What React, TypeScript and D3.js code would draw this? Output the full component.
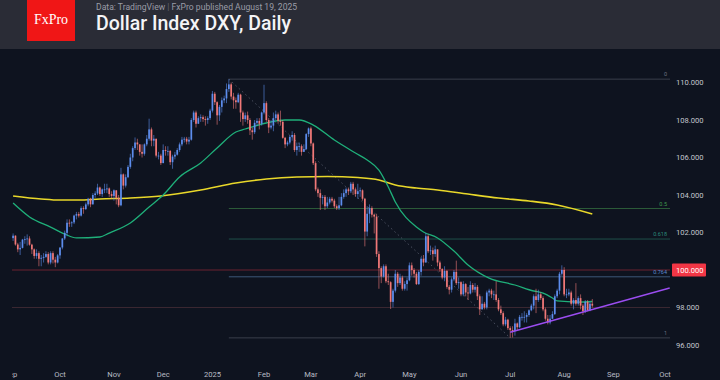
import React, { useEffect } from "react";
import * as d3 from "d3";

// ---------- DATA ----------
type OHLC = [number, number, number, number];

const holidays = ["2024-12-25", "2025-01-01", "2025-04-18"];

const sep24: OHLC[] = [
  [101.7, 101.95, 101.55, 101.83], [101.83, 101.85, 101.3, 101.36], [101.36, 101.45, 100.95, 101.1],
  [101.1, 101.5, 100.8, 101.18], [101.18, 101.66, 101.15, 101.62], [101.62, 101.8, 101.4, 101.64],
  [101.64, 101.9, 101.3, 101.68], [101.68, 101.8, 101.3, 101.35], [101.35, 101.4, 100.85, 101.1],
  [101.1, 101.15, 100.6, 100.75], [100.75, 101.1, 100.6, 100.9], [100.9, 101.0, 100.2, 100.6],
  [100.6, 100.8, 100.2, 100.65], [100.65, 100.9, 100.4, 100.7], [100.7, 101.0, 100.65, 100.85],
  [100.85, 100.95, 100.3, 100.4], [100.4, 101.0, 100.3, 100.9], [100.9, 101.0, 100.35, 100.55],
  [100.55, 100.7, 100.15, 100.4], [100.4, 100.85, 100.35, 100.78],
];
const oct24: OHLC[] = [
  [100.78, 101.2, 100.6, 101.2], [101.2, 101.7, 101.1, 101.68], [101.68, 102.1, 101.6, 101.98],
  [101.98, 102.7, 101.8, 102.52], [102.52, 102.7, 102.3, 102.5], [102.5, 102.6, 102.3, 102.54],
  [102.54, 102.95, 102.45, 102.9], [102.9, 103.1, 102.7, 102.98], [102.98, 103.1, 102.8, 102.9],
  [102.9, 103.4, 102.85, 103.3], [103.3, 103.4, 103.0, 103.25], [103.25, 103.6, 103.2, 103.5],
  [103.5, 103.85, 103.4, 103.8], [103.8, 103.85, 103.35, 103.5], [103.5, 104.1, 103.5, 104.0],
  [104.0, 104.2, 103.85, 104.08], [104.08, 104.6, 104.0, 104.4], [104.4, 104.45, 103.95, 104.05],
  [104.05, 104.35, 103.9, 104.3], [104.3, 104.6, 104.1, 104.3], [104.3, 104.6, 104.1, 104.35],
  [104.35, 104.4, 103.9, 104.05], [104.05, 104.2, 103.8, 103.95],
];
const nov24: OHLC[] = [
  [103.95, 104.3, 103.7, 104.25], [104.25, 104.25, 103.5, 103.85], [103.85, 104.0, 103.35, 103.45],
  [103.45, 105.45, 103.4, 105.1], [105.1, 105.15, 104.3, 104.5], [104.5, 105.1, 104.4, 104.95],
  [104.95, 105.6, 104.9, 105.5], [105.5, 106.2, 105.4, 106.0], [106.0, 106.6, 105.8, 106.5],
  [106.5, 107.07, 106.4, 106.8], [106.8, 107.0, 106.4, 106.7], [106.7, 106.7, 106.1, 106.3],
  [106.3, 106.7, 106.0, 106.2], [106.2, 106.75, 106.1, 106.7], [106.7, 107.2, 106.6, 107.0],
  [107.0, 108.07, 106.9, 107.5], [107.5, 107.6, 106.6, 106.9], [106.9, 107.2, 106.6, 107.0],
  [107.0, 107.0, 106.0, 106.1], [106.1, 106.3, 105.9, 106.1], [106.1, 106.2, 105.6, 105.7],
];
const dec24: OHLC[] = [
  [105.7, 106.7, 105.7, 106.4], [106.4, 106.6, 106.1, 106.35], [106.35, 106.6, 106.1, 106.35],
  [106.35, 106.4, 105.6, 105.75], [105.75, 106.15, 105.4, 106.05], [106.05, 106.3, 105.9, 106.15],
  [106.15, 106.5, 106.1, 106.4], [106.4, 106.8, 106.3, 106.7], [106.7, 107.1, 106.6, 106.95],
  [106.95, 107.1, 106.8, 107.0], [107.0, 107.1, 106.7, 106.85], [106.85, 107.1, 106.7, 106.95],
  [106.95, 108.1, 106.9, 108.0], [108.0, 108.5, 107.9, 108.4], [108.4, 108.5, 107.6, 107.8],
  [107.8, 108.2, 107.8, 108.1], [108.1, 108.3, 107.9, 108.15], [108.15, 108.25, 107.9, 108.05],
  [108.05, 108.2, 107.7, 108.0], [108.0, 108.2, 107.8, 108.1], [108.1, 108.6, 108.0, 108.5],
];
const jan25: OHLC[] = [
  [108.5, 109.55, 108.4, 109.4], [109.4, 109.5, 108.8, 108.95], [108.95, 109.0, 107.75, 108.25],
  [108.25, 108.8, 107.95, 108.7], [108.7, 109.2, 108.4, 109.05], [109.05, 109.3, 108.9, 109.15],
  [109.15, 109.95, 108.9, 109.65], [109.65, 110.18, 109.5, 109.9], [109.9, 110.0, 109.1, 109.25],
  [109.25, 109.45, 108.6, 109.05], [109.05, 109.2, 108.6, 108.95], [108.95, 109.45, 108.9, 109.35],
  [109.35, 109.4, 107.9, 108.4], [108.4, 108.5, 107.7, 108.05], [108.05, 108.4, 107.9, 108.25],
  [108.25, 108.45, 107.8, 108.0], [108.0, 108.1, 107.2, 107.45], [107.45, 107.6, 106.95, 107.35],
  [107.35, 108.0, 107.25, 107.85], [107.85, 108.1, 107.7, 107.95], [107.95, 108.1, 107.5, 107.8],
  [107.8, 108.45, 107.7, 108.4],
];
const feb25: OHLC[] = [
  [108.4, 109.88, 108.3, 108.9], [108.9, 109.0, 107.9, 108.0], [108.0, 108.1, 107.3, 107.6],
  [107.6, 108.0, 107.5, 107.7], [107.7, 108.4, 107.4, 108.1], [108.1, 108.5, 108.0, 108.3],
  [108.3, 108.4, 107.8, 107.95], [107.95, 108.5, 107.7, 107.9], [107.9, 108.0, 107.0, 107.05],
  [107.05, 107.1, 106.5, 106.7], [106.7, 106.9, 106.6, 106.8], [106.8, 107.2, 106.7, 107.1],
  [107.1, 107.4, 106.9, 107.2], [107.2, 107.3, 106.3, 106.4], [106.4, 106.8, 106.1, 106.6],
  [106.6, 106.8, 106.3, 106.6], [106.6, 106.7, 106.1, 106.3], [106.3, 106.7, 106.3, 106.45],
  [106.45, 107.3, 106.4, 107.25], [107.25, 107.6, 107.1, 107.55],
];
const mar25: OHLC[] = [
  [107.55, 107.65, 106.6, 106.75], [106.75, 106.8, 105.6, 105.7], [105.7, 105.8, 104.2, 104.3],
  [104.3, 104.4, 103.9, 104.1], [104.1, 104.3, 103.2, 103.85], [103.85, 104.0, 103.5, 103.9],
  [103.9, 104.0, 103.2, 103.4], [103.4, 103.9, 103.3, 103.6], [103.6, 103.9, 103.5, 103.8],
  [103.8, 103.9, 103.6, 103.7], [103.7, 103.8, 103.3, 103.4], [103.4, 103.5, 103.2, 103.3],
  [103.3, 103.9, 103.2, 103.45], [103.45, 104.1, 103.4, 103.9], [103.9, 104.3, 103.8, 104.1],
  [104.1, 104.4, 103.9, 104.3], [104.3, 104.4, 104.0, 104.2], [104.2, 104.7, 104.1, 104.6],
  [104.6, 104.7, 104.0, 104.3], [104.3, 104.4, 103.9, 104.05], [104.05, 104.6, 103.8, 104.2],
];
const apr25: OHLC[] = [
  [104.2, 104.4, 103.9, 104.25], [104.25, 104.3, 103.7, 103.8], [103.8, 103.85, 101.26, 102.05],
  [102.05, 103.4, 101.8, 103.0], [103.0, 103.5, 102.5, 103.3], [103.3, 103.4, 102.8, 102.95],
  [102.95, 103.0, 101.95, 102.85], [102.85, 103.0, 100.7, 100.85], [100.85, 101.0, 99.0, 100.1],
  [100.1, 100.2, 99.3, 99.65], [99.65, 100.3, 99.6, 100.2], [100.2, 100.3, 99.3, 99.4],
  [99.4, 99.8, 99.2, 99.35], [99.35, 99.4, 97.92, 98.3], [98.3, 99.0, 98.0, 98.9],
  [98.9, 100.0, 98.8, 99.8], [99.8, 99.9, 99.1, 99.3], [99.3, 99.8, 99.2, 99.6],
  [99.6, 99.7, 98.9, 99.0], [99.0, 99.4, 98.9, 99.25], [99.25, 99.6, 98.9, 99.45],
];
const may25: OHLC[] = [
  [99.45, 100.4, 99.4, 100.25], [100.25, 100.4, 99.7, 100.0], [100.0, 100.1, 99.6, 99.8],
  [99.8, 99.9, 99.2, 99.25], [99.25, 100.0, 99.2, 99.9], [99.9, 100.7, 99.7, 100.6],
  [100.6, 100.8, 100.2, 100.4], [100.4, 101.98, 100.4, 101.8], [101.8, 101.9, 100.9, 101.0],
  [101.0, 101.3, 100.8, 101.05], [101.05, 101.2, 100.5, 100.85], [100.85, 101.3, 100.7, 101.1],
  [101.1, 101.1, 100.2, 100.4], [100.4, 100.5, 99.9, 100.05], [100.05, 100.1, 99.5, 99.6],
  [99.6, 100.2, 99.4, 99.95], [99.95, 100.0, 99.0, 99.1], [99.1, 99.2, 98.7, 98.95],
  [98.95, 99.6, 98.8, 99.5], [99.5, 100.0, 99.4, 99.9], [99.9, 100.5, 99.2, 99.3],
  [99.3, 99.6, 99.0, 99.35],
];
const jun25: OHLC[] = [
  [99.35, 99.4, 98.6, 98.7], [98.7, 99.4, 98.6, 99.25], [99.25, 99.3, 98.6, 98.8],
  [98.8, 99.1, 98.4, 98.75], [98.75, 99.4, 98.7, 99.2], [99.2, 99.3, 98.8, 98.95],
  [98.95, 99.3, 98.8, 99.1], [99.1, 99.2, 98.4, 98.6], [98.6, 98.7, 97.6, 97.9],
  [97.9, 98.6, 97.9, 98.2], [98.2, 98.3, 97.9, 98.0], [98.0, 98.9, 97.9, 98.8],
  [98.8, 99.0, 98.6, 98.9], [98.9, 99.0, 98.5, 98.7], [98.7, 98.9, 98.4, 98.7],
  [98.7, 99.4, 98.3, 98.4], [98.4, 98.5, 97.8, 97.9], [97.9, 98.1, 97.6, 97.7],
  [97.7, 97.8, 97.0, 97.1], [97.1, 97.5, 97.0, 97.35], [97.35, 97.4, 96.8, 96.9],
];
const jul25: OHLC[] = [
  [96.9, 97.0, 96.38, 96.8], [96.8, 97.0, 96.4, 96.75], [96.75, 97.4, 96.5, 97.15],
  [97.15, 97.2, 96.8, 96.95], [96.95, 97.6, 96.9, 97.5], [97.5, 97.7, 97.3, 97.5],
  [97.5, 97.8, 97.2, 97.5], [97.5, 97.7, 97.2, 97.6], [97.6, 97.9, 97.5, 97.85],
  [97.85, 98.2, 97.8, 98.1], [98.1, 98.7, 97.9, 98.6], [98.6, 99.0, 97.7, 98.4],
  [98.4, 98.95, 98.3, 98.7], [98.7, 98.8, 98.4, 98.5], [98.5, 98.6, 97.8, 97.9],
  [97.9, 98.0, 97.3, 97.4], [97.4, 97.6, 97.1, 97.2], [97.2, 97.6, 97.1, 97.4],
  [97.4, 97.8, 97.4, 97.65], [97.65, 98.7, 97.6, 98.6], [98.6, 99.0, 98.5, 98.9],
  [98.9, 99.9, 98.7, 99.8], [99.8, 100.25, 99.7, 100.0],
];
const aug25: OHLC[] = [
  [100.0, 100.15, 98.6, 98.7], [98.7, 99.0, 98.5, 98.7], [98.7, 99.0, 98.6, 98.8],
  [98.8, 98.9, 98.1, 98.2], [98.2, 98.5, 97.9, 98.4], [98.4, 99.3, 98.1, 98.2],
  [98.2, 98.6, 98.1, 98.5], [98.5, 98.7, 97.9, 98.1], [98.1, 98.2, 97.6, 97.8],
  [97.8, 98.4, 97.7, 98.3], [98.3, 98.4, 97.8, 97.85], [97.85, 98.3, 97.8, 98.2],
  [98.2, 98.45, 98.0, 98.1],
];

const monthKeys = ["2024-09", "2024-10", "2024-11", "2024-12", "2025-01", "2025-02", "2025-03", "2025-04", "2025-05", "2025-06", "2025-07", "2025-08"];
const monthCandles = [sep24, oct24, nov24, dec24, jan25, feb25, mar25, apr25, may25, jun25, jul25, aug25];
const firstCandleDay = "2024-09-03";

const axisMonthKeys = ["2024-09", "2024-10", "2024-11", "2024-12", "2025-01", "2025-02", "2025-03", "2025-04", "2025-05", "2025-06", "2025-07", "2025-08", "2025-09", "2025-10"];
const axisMonthLabels = ["Sep", "Oct", "Nov", "Dec", "2025", "Feb", "Mar", "Apr", "May", "Jun", "Jul", "Aug", "Sep", "Oct"];

const ma50: [string, number][] = [
  ["2024-09-03", 103.57], ["2024-09-12", 102.83], ["2024-09-25", 102.29], ["2024-10-03", 101.92],
  ["2024-10-10", 101.71], ["2024-10-24", 101.76], ["2024-10-30", 101.97], ["2024-11-12", 102.51],
  ["2024-11-22", 103.36], ["2024-12-02", 104.0], ["2024-12-11", 104.96], ["2024-12-24", 105.71],
  ["2025-01-06", 106.51], ["2025-01-16", 107.36], ["2025-01-22", 107.52], ["2025-02-04", 107.84],
  ["2025-02-14", 108.0], ["2025-02-24", 108.0], ["2025-03-04", 107.73], ["2025-03-17", 106.93],
  ["2025-03-28", 106.24], ["2025-04-04", 105.87], ["2025-04-11", 105.33], ["2025-04-17", 104.43],
  ["2025-04-23", 103.63], ["2025-05-06", 102.29], ["2025-05-09", 102.03], ["2025-05-19", 101.71],
  ["2025-05-28", 101.01], ["2025-06-05", 100.27], ["2025-06-18", 99.57], ["2025-07-03", 99.2],
  ["2025-07-15", 98.88], ["2025-07-21", 98.77], ["2025-07-25", 98.51], ["2025-07-29", 98.35],
  ["2025-08-11", 98.29], ["2025-08-19", 98.32],
];
const ma200: [string, number][] = [
  ["2024-09-03", 103.95], ["2024-09-19", 103.79], ["2024-10-01", 103.73], ["2024-10-11", 103.73],
  ["2024-10-24", 103.79], ["2024-11-12", 103.84], ["2024-11-29", 103.95], ["2024-12-24", 104.27],
  ["2025-01-16", 104.64], ["2025-02-04", 104.85], ["2025-02-21", 104.96], ["2025-03-12", 104.99],
  ["2025-03-31", 104.93], ["2025-04-11", 104.8], ["2025-04-23", 104.53], ["2025-05-06", 104.37],
  ["2025-05-19", 104.27], ["2025-06-05", 104.05], ["2025-06-24", 103.84], ["2025-07-11", 103.68],
  ["2025-07-29", 103.47], ["2025-08-19", 102.99],
];

const trendLine: [string, number][] = [["2025-07-01", 96.68], ["2025-10-03", 99.04]];
const fibHigh: [string, number] = ["2025-01-13", 110.18];
const fibLow: [string, number] = ["2025-07-01", 96.38];
const fibLevels = [0, 0.5, 0.618, 0.764, 1];
const fibLabels = ["0", "0.5", "0.618", "0.764", "1"];
const fibColors = ["#3a3f4c", "#2b5a38", "#1e4f49", "#3c5878", "#3a3f4c"];
const fibTextColors = ["#6d7280", "#3f9a4c", "#2a8a7a", "#5a8ad0", "#6d7280"];

const keyLevels = [100, 98];
const keyLevelColors = ["#6b2330", "#3a2731"];
const priceTag = 100;
const yTicks = [96, 98, 100, 102, 104, 106, 108, 110];

// ---------- HELPERS ----------
const pad = (n: number) => (n < 10 ? "0" + n : "" + n);
const keyOf = (d: Date) => `${d.getUTCFullYear()}-${pad(d.getUTCMonth() + 1)}-${pad(d.getUTCDate())}`;

function tradingDays(start: string, end: string): string[] {
  const out: string[] = [];
  const d = new Date(start + "T00:00:00Z");
  const e = new Date(end + "T00:00:00Z");
  while (d <= e) {
    const wd = d.getUTCDay();
    const k = keyOf(d);
    if (wd !== 0 && wd !== 6 && !holidays.includes(k)) out.push(k);
    d.setUTCDate(d.getUTCDate() + 1);
  }
  return out;
}

const W = 720;
const H = 380;
const PL = 12;
const PR = 670;

export default function App() {
  useEffect(() => {
    document.body.style.margin = "0";
    document.body.style.background = "#0e131f";
  }, []);

  const days = tradingDays("2024-09-02", "2025-10-31");
  const idx = new Map(days.map((k, i) => [k, i]));
  const ix = (k: string) => idx.get(k) as number;

  const x = d3.scaleLinear().domain([ix("2024-10-01"), ix("2025-10-01")]).range([60, 665]);
  const y = d3.scaleLinear().domain([96, 110]).range([345, 82.5]);
  const xd = (k: string) => x(ix(k));

  // candles
  const candles: { k: string; o: number; h: number; l: number; c: number }[] = [];
  monthKeys.forEach((mk, mi) => {
    const md = days.filter((k) => k.startsWith(mk) && k >= firstCandleDay);
    monthCandles[mi].forEach((v, j) => {
      if (md[j]) candles.push({ k: md[j], o: v[0], h: v[1], l: v[2], c: v[3] });
    });
  });

  const bw = 1.7;
  const up = "#5d8ded";
  const dn = "#f07878";

  const line = d3
    .line<[string, number]>()
    .x((d) => xd(d[0]))
    .y((d) => y(d[1]))
    .curve(d3.curveMonotoneX);

  const fibX0 = xd(fibHigh[0]);
  const range = fibHigh[1] - fibLow[1];

  const monthTicks = axisMonthKeys.map((mk, i) => ({
    label: axisMonthLabels[i],
    k: days.find((d) => d.startsWith(mk)) as string,
  }));

  const font = "Roboto, 'Noto Sans', Arial, sans-serif";

  return (
    <svg width={W} height={H} style={{ position: "absolute", left: 0, top: 0, display: "block" }}>
      <defs>
        <clipPath id="plot">
          <rect x={PL} y={50} width={PR - PL + 2} height={312} />
        </clipPath>
        <clipPath id="xaxis">
          <rect x={PL} y={360} width={W - PL} height={20} />
        </clipPath>
      </defs>
      <rect x={0} y={0} width={W} height={H} fill="#0e131f" />
      {/* header */}
      <rect x={0} y={0} width={W} height={49} fill="#2a2c36" />
      <rect x={27} y={0} width={48} height={41} fill="#f01616" />
      <text x={51} y={23.5} textAnchor="middle" fill="#fff" fontFamily="'Liberation Serif', 'DejaVu Serif', serif" fontSize={14}>
        FxPro
      </text>
      <text x={96} y={9.5} fill="#9a9ca6" fontFamily={font} fontSize={8.6}>
        Data: TradingView <tspan fill="#60636d">|</tspan> FxPro published August 19, 2025
      </text>
      <text x={96} y={29.5} fill="#f4f4f6" fontFamily={font} fontSize={19.5} fontWeight={500}>
        Dollar Index DXY, Daily
      </text>

      <g clipPath="url(#plot)">
        {/* key horizontal levels */}
        {keyLevels.map((v, i) => (
          <line key={"kl" + v} x1={PL} x2={PR} y1={y(v)} y2={y(v)} stroke={keyLevelColors[i]} strokeWidth={1} />
        ))}
        {/* fib levels */}
        {fibLevels.map((lv, i) => {
          const yy = y(fibHigh[1] - lv * range);
          return (
            <g key={"fib" + lv}>
              <line x1={fibX0} x2={PR} y1={yy} y2={yy} stroke={fibColors[i]} strokeWidth={1} />
              <text x={PR - 3} y={yy - 3} textAnchor="end" fill={fibTextColors[i]} fontFamily={font} fontSize={5.5}>
                {fibLabels[i]}
              </text>
            </g>
          );
        })}
        <line
          x1={fibX0}
          y1={y(fibHigh[1])}
          x2={xd(fibLow[0])}
          y2={y(fibLow[1])}
          stroke="#4b5060"
          strokeWidth={1}
          strokeDasharray="1.5,3"
        />
        {/* moving averages */}
        <path d={line(ma200) as string} fill="none" stroke="#e9d82a" strokeWidth={1.6} />
        <path d={line(ma50) as string} fill="none" stroke="#1fb07a" strokeWidth={1.3} />
        {/* candles */}
        {candles.map((c) => {
          const cx = xd(c.k);
          const col = c.c >= c.o ? up : dn;
          const top = y(Math.max(c.o, c.c));
          const bot = y(Math.min(c.o, c.c));
          return (
            <g key={c.k}>
              <line x1={cx} x2={cx} y1={y(c.h)} y2={y(c.l)} stroke={col} strokeWidth={0.8} strokeOpacity={0.75} />
              <rect x={cx - bw / 2} y={top} width={bw} height={Math.max(0.8, bot - top)} fill={col} />
            </g>
          );
        })}
        {/* trend line */}
        <line
          x1={xd(trendLine[0][0])}
          y1={y(trendLine[0][1])}
          x2={xd(trendLine[1][0])}
          y2={y(trendLine[1][1])}
          stroke="#9b4df0"
          strokeWidth={1.3}
        />
      </g>

      {/* y axis labels */}
      {yTicks.map((t) => (
        <text key={"yt" + t} x={676} y={y(t) + 2.7} fill="#c3c6ce" fontFamily={font} fontSize={7.6}>
          {t.toFixed(3)}
        </text>
      ))}
      {/* price tag */}
      <rect x={672} y={y(priceTag) - 6.5} width={34} height={13} fill="#f23645" rx={1} />
      <text x={676} y={y(priceTag) + 2.7} fill="#ffffff" fontFamily={font} fontSize={7.6}>
        {priceTag.toFixed(3)}
      </text>

      {/* x axis labels */}
      <g clipPath="url(#xaxis)">
        {monthTicks.map((m, i) => (
          <text key={"xt" + i} x={xd(m.k)} y={377} textAnchor="middle" fill="#b8bbc4" fontFamily={font} fontSize={7.6}>
            {m.label}
          </text>
        ))}
      </g>
    </svg>
  );
}
